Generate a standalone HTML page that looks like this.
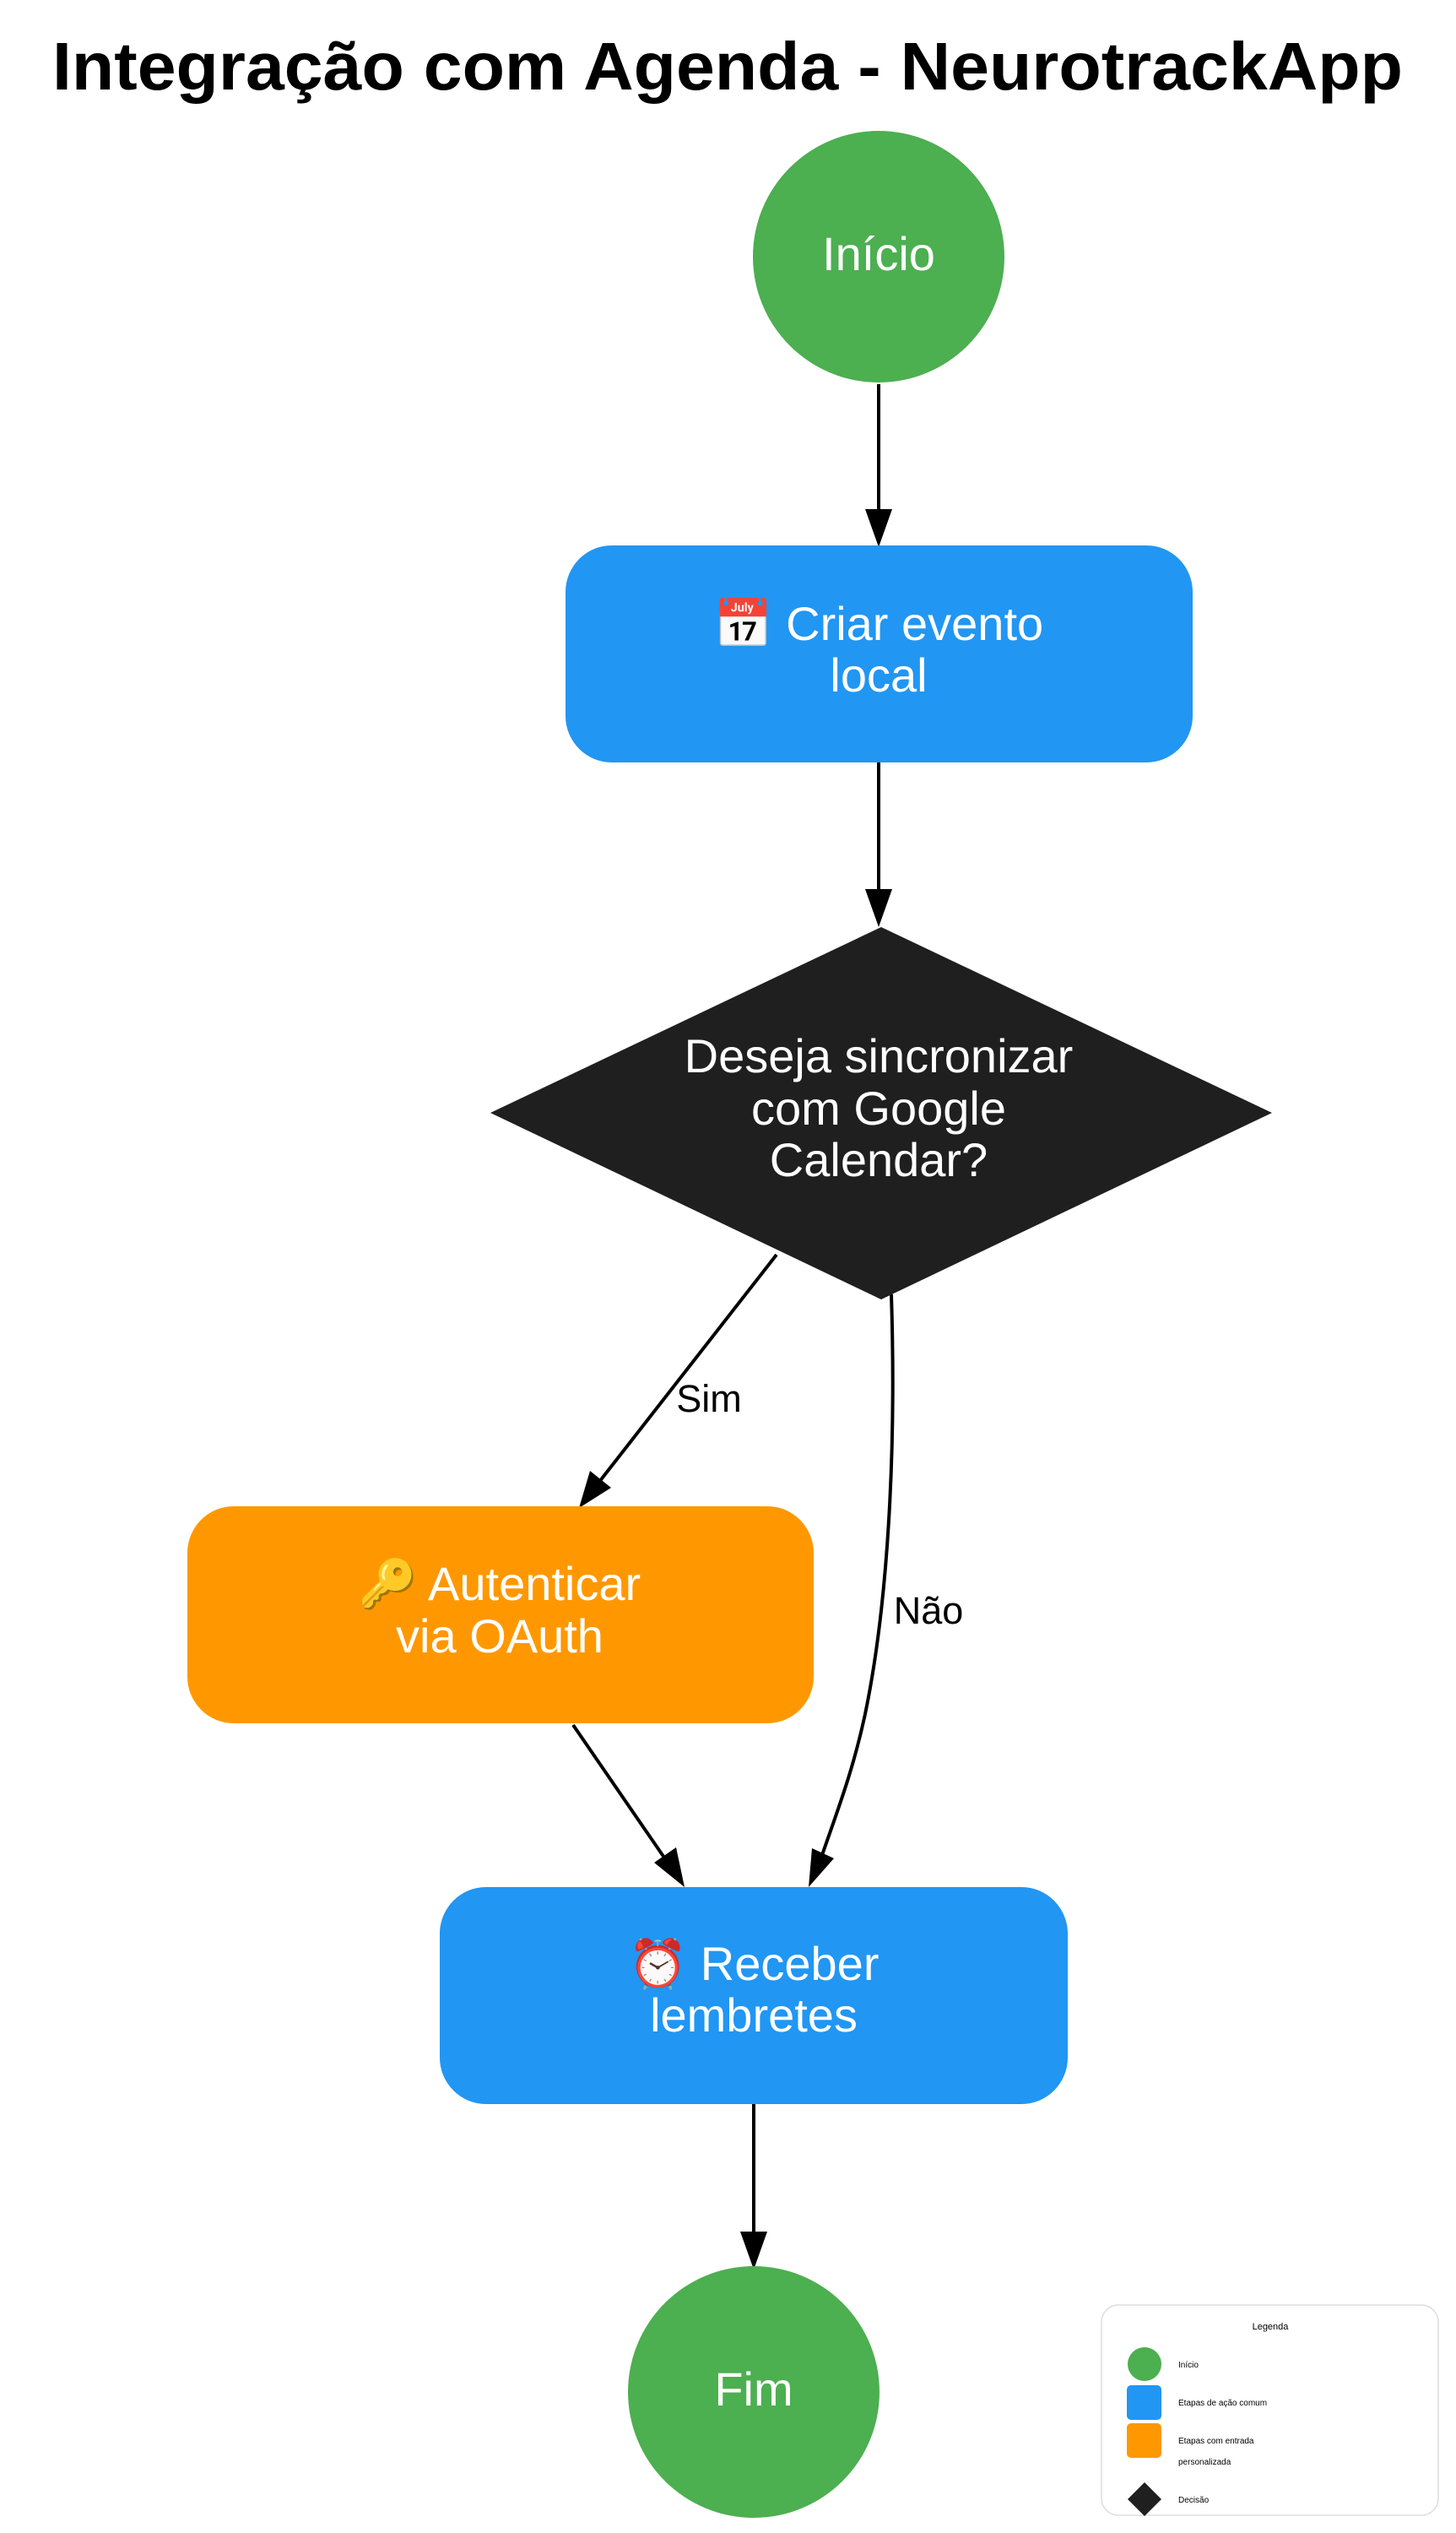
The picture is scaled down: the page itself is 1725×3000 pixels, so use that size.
<!DOCTYPE html>
<html><head><meta charset="utf-8"><style>
html,body{margin:0;padding:0;background:#fff;}
svg{display:block;}
text{font-family:"Liberation Sans","Noto Sans CJK JP",sans-serif;}
</style></head><body>
<svg width="1725" height="3000" viewBox="0 0 1725 3000" xmlns="http://www.w3.org/2000/svg">
<rect width="1725" height="3000" fill="#fff"/>
<text x="862" y="106" font-size="80" font-weight="bold" text-anchor="middle" textLength="1600" lengthAdjust="spacingAndGlyphs" fill="#000">Integração com Agenda - NeurotrackApp</text>

<g stroke="#000" stroke-width="4" fill="none">
<line x1="1041" y1="455" x2="1041" y2="605"/>
<line x1="1041" y1="903" x2="1041" y2="1055"/>
<line x1="920" y1="1486" x2="710" y2="1755"/>
<path d="M1056,1533 C1062,1720 1052,1900 1025,2030 C1010,2100 990,2150 973,2200"/>
<line x1="679" y1="2043" x2="789" y2="2203"/>
<line x1="893" y1="2492" x2="893" y2="2645"/>
</g>
<g fill="#000">
<polygon points="1041,648 1025,603 1057,603"/>
<polygon points="1041,1098 1025,1053 1057,1053"/>
<polygon points="686,1786 699,1742 724,1762"/>
<polygon points="958,2235 962,2189 988,2201"/>
<polygon points="811,2235 775,2206 801,2188"/>
<polygon points="893,2688 877,2643 909,2643"/>
</g>
<text x="840" y="1672" font-size="45" text-anchor="middle" fill="#000">Sim</text>
<text x="1100" y="1923" font-size="45" text-anchor="middle" fill="#000">Não</text>

<circle cx="1041" cy="304" r="149" fill="#4caf50"/>
<text x="1041" y="320" font-size="56" text-anchor="middle" fill="#fff">Início</text>

<rect x="670" y="646" width="743" height="257" rx="55" fill="#2196f3"/>
<text x="1041" y="758" font-size="56" text-anchor="middle" fill="#fff">📅 Criar evento</text>
<text x="1041" y="819" font-size="56" text-anchor="middle" fill="#fff">local</text>

<polygon points="1044,1098 1507,1318 1044,1539 581,1318" fill="#1f1f1f"/>
<text x="1041" y="1270" font-size="56" text-anchor="middle" fill="#fff">Deseja sincronizar</text>
<text x="1041" y="1332" font-size="56" text-anchor="middle" fill="#fff">com Google</text>
<text x="1041" y="1393" font-size="56" text-anchor="middle" fill="#fff">Calendar?</text>

<rect x="222" y="1784" width="742" height="257" rx="55" fill="#ff9800"/>
<text x="592" y="1895" font-size="56" text-anchor="middle" fill="#fff">🔑 Autenticar</text>
<text x="592" y="1957" font-size="56" text-anchor="middle" fill="#fff">via OAuth</text>

<rect x="521" y="2235" width="744" height="257" rx="55" fill="#2196f3"/>
<text x="893" y="2345" font-size="56" text-anchor="middle" fill="#fff">⏰ Receber</text>
<text x="893" y="2406" font-size="56" text-anchor="middle" fill="#fff">lembretes</text>

<circle cx="893" cy="2833" r="149" fill="#4caf50"/>
<text x="893" y="2849" font-size="56" text-anchor="middle" fill="#fff">Fim</text>

<rect x="1305" y="2730" width="399" height="249" rx="20" fill="#fff" stroke="#ddd" stroke-width="1.5"/>
<text x="1505" y="2759" font-size="11" text-anchor="middle" fill="#000">Legenda</text>
<circle cx="1356" cy="2800" r="20" fill="#4caf50"/>
<text x="1396" y="2804" font-size="10" fill="#000">Início</text>
<rect x="1335" y="2825" width="41" height="41" rx="5" fill="#2196f3"/>
<text x="1396" y="2849" font-size="10" fill="#000">Etapas de ação comum</text>
<rect x="1335" y="2870" width="41" height="41" rx="5" fill="#ff9800"/>
<text x="1396" y="2894" font-size="10" fill="#000">Etapas com entrada</text>
<text x="1396" y="2919" font-size="10" fill="#000">personalizada</text>
<polygon points="1356,2940 1376,2960 1356,2980 1336,2960" fill="#1f1f1f"/>
<text x="1396" y="2964" font-size="10" fill="#000">Decisão</text>
</svg>
</body></html>
